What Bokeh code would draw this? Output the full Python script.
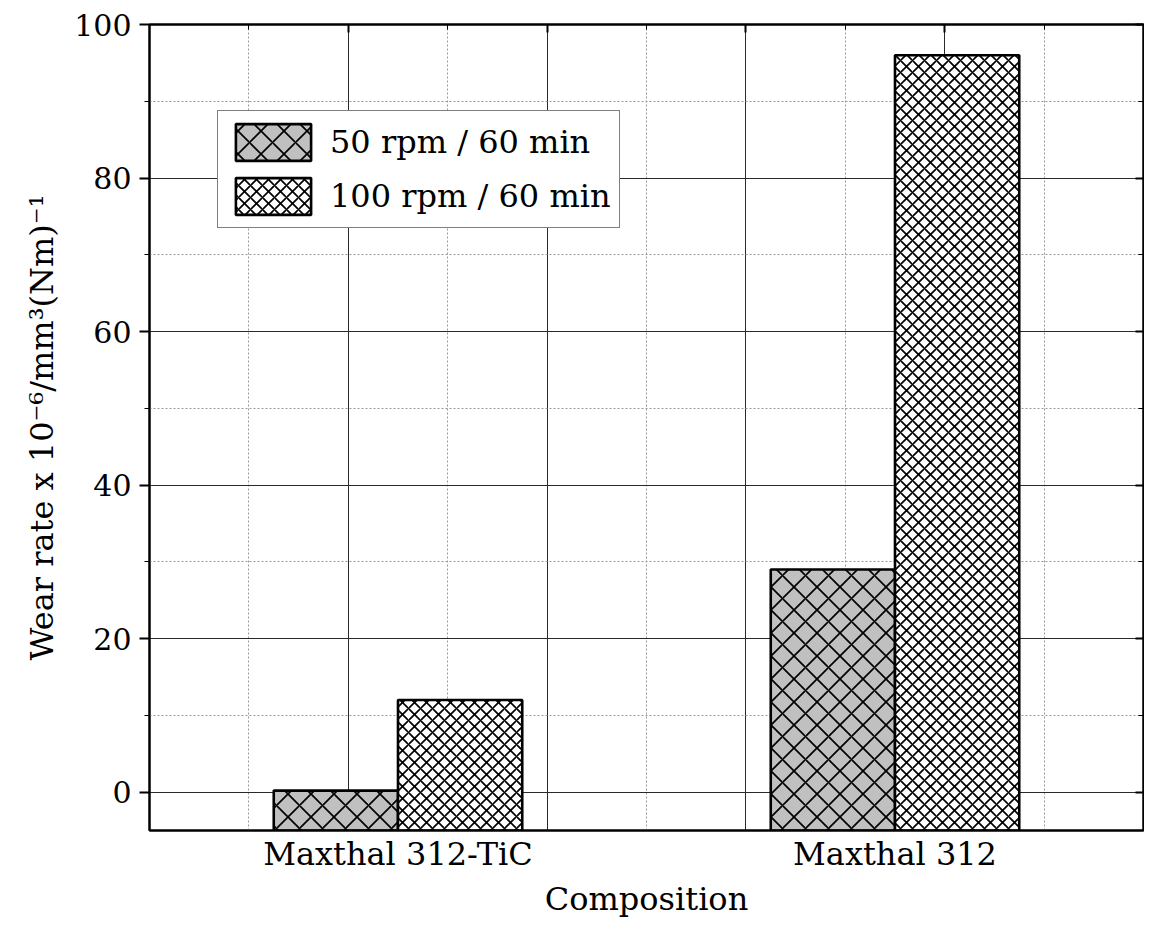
from bokeh.plotting import figure
from bokeh.models import (Range1d, FixedTicker, LinearAxis, Legend, LegendItem,
                          ColumnDataSource, CustomJSTickFormatter)
from bokeh.transform import dodge
from bokeh.embed import file_html
from bokeh.resources import INLINE

# ---- data ----
categories = ["Maxthal 312-TiC", "Maxthal 312"]
cat_pos = [1, 2]
series_names = ["50 rpm / 60 min", "100 rpm / 60 min"]
wear_50rpm = [0.2, 29.0]
wear_100rpm = [12.0, 96.0]
y_ticks = [0, 20, 40, 60, 80, 100]
y_minor_ticks = [10, 30, 50, 70, 90]
x_grid_major = [0.9, 1.3, 1.7, 2.1]
x_grid_minor = [0.7, 1.1, 1.5, 1.9, 2.3]

FONT = "DejaVu Serif"

src = ColumnDataSource(data=dict(pos=cat_pos, w50=wear_50rpm, w100=wear_100rpm))

p = figure(width=1144, height=920, x_range=Range1d(0.5, 2.5), y_range=Range1d(-5, 100),
           output_backend="svg", toolbar_location=None,
           min_border_left=149, min_border_right=1, min_border_top=24, min_border_bottom=88)
p.background_fill_color = "white"
p.border_fill_color = "white"
p.outline_line_color = "black"
p.outline_line_width = 2

# grids
p.xgrid.ticker = FixedTicker(ticks=x_grid_major, minor_ticks=x_grid_minor)
p.ygrid.ticker = FixedTicker(ticks=y_ticks, minor_ticks=y_minor_ticks)
for g in (p.xgrid, p.ygrid):
    g.grid_line_color = "#2a2a2a"
    g.grid_line_width = 1
    g.grid_line_alpha = 1
    g.minor_grid_line_color = "#999999"
    g.minor_grid_line_dash = "2 2"
    g.minor_grid_line_width = 1

# bars
r1 = p.vbar(x=dodge("pos", -0.125, range=p.x_range), top="w50", bottom=-5, width=0.25, source=src,
            fill_color="#c0c0c0", line_color="black", line_width=2.6,
            hatch_pattern="x", hatch_scale=23, hatch_weight=1.7, hatch_color="black")
r2 = p.vbar(x=dodge("pos", 0.125, range=p.x_range), top="w100", bottom=-5, width=0.25, source=src,
            fill_color="white", line_color="black", line_width=2.6,
            hatch_pattern="x", hatch_scale=12, hatch_weight=1.7, hatch_color="black")

# bottom axis
xa = p.xaxis[0]
xa.ticker = FixedTicker(ticks=cat_pos, minor_ticks=[])
xa.major_label_overrides = {cat_pos[i]: categories[i] for i in range(len(cat_pos))}
xa.major_tick_in = 0
xa.major_tick_out = 0
xa.axis_line_width = 2
xa.major_label_text_font = FONT
xa.major_label_text_font_size = "32px"
xa.major_label_text_color = "black"
xa.major_label_standoff = 4
xa.axis_label = "Composition"
xa.axis_label_text_font = FONT
xa.axis_label_text_font_size = "32px"
xa.axis_label_text_font_style = "normal"
xa.axis_label_text_color = "black"
xa.axis_label_standoff = 4

# left axis
ya = p.yaxis[0]
ya.ticker = FixedTicker(ticks=y_ticks, minor_ticks=y_minor_ticks)
ya.major_tick_in = 0
ya.major_tick_out = 10
ya.minor_tick_in = 0
ya.minor_tick_out = 5
ya.axis_line_width = 2
ya.major_tick_line_width = 2
ya.major_label_text_font = FONT
ya.major_label_text_font_size = "30px"
ya.major_label_text_color = "black"
ya.major_label_standoff = 8
ya.axis_label = "Wear rate x 10\u207b\u2076/mm\u00b3(Nm)\u207b\u00b9"
ya.axis_label_text_font = FONT
ya.axis_label_text_font_size = "32px"
ya.axis_label_text_font_style = "normal"
ya.axis_label_text_color = "black"
ya.axis_label_standoff = 10

blank = CustomJSTickFormatter(code="return ''")
top = LinearAxis(ticker=FixedTicker(ticks=x_grid_major, minor_ticks=x_grid_minor),
                 formatter=blank, major_label_text_font_size="1px", major_label_standoff=0,
                 major_tick_in=8, major_tick_out=0, minor_tick_in=5, minor_tick_out=0,
                 axis_line_width=2, major_tick_line_width=2)
p.add_layout(top, "above")
right = LinearAxis(ticker=FixedTicker(ticks=y_ticks, minor_ticks=y_minor_ticks),
                   formatter=blank, major_label_text_font_size="1px", major_label_standoff=0,
                   major_tick_in=8, major_tick_out=0, minor_tick_in=5, minor_tick_out=0,
                   axis_line_width=2, major_tick_line_width=2)
p.add_layout(right, "right")

legend = Legend(items=[LegendItem(label=series_names[0], renderers=[r1]),
                       LegendItem(label=series_names[1], renderers=[r2])],
                location=(68, 602))
legend.border_line_color = "black"
legend.border_line_width = 1.5
legend.background_fill_color = "white"
legend.background_fill_alpha = 1
legend.label_text_font = FONT
legend.label_text_font_size = "32px"
legend.label_text_color = "black"
legend.glyph_width = 94
legend.glyph_height = 46
legend.padding = 8
legend.spacing = 8
legend.label_standoff = 10
legend.margin = 0
p.add_layout(legend)

open("out.html", "w").write(file_html(p, INLINE))
